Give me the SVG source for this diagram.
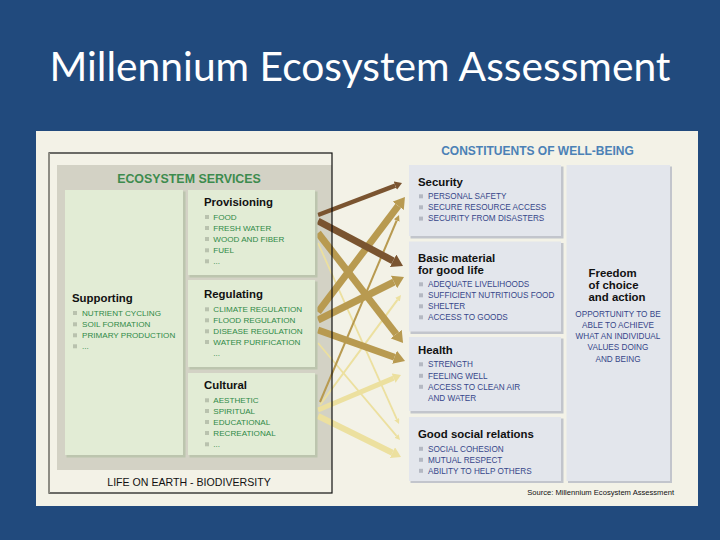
<svg xmlns="http://www.w3.org/2000/svg" width="720" height="540" viewBox="0 0 720 540">
<defs>
<style>
.title{font-family:Lato,"Open Sans","Liberation Sans",sans-serif;font-size:41px;fill:#ffffff}
.hd{font-family:"Liberation Sans",Arial,sans-serif;font-weight:bold;font-size:11.4px;fill:#111111}
.gi{font-family:"Liberation Sans",Arial,sans-serif;font-size:8.1px;fill:#2f8a47}
.bi{font-family:"Liberation Sans",Arial,sans-serif;font-size:8.2px;fill:#37478a}
.gb{fill:#b9c2ae}
.bb{fill:#b4b8c2}
.gbox{fill:#e2ecd5}
.gsh{fill:#bcc5ae}
.bbox{fill:#e3e6ec}
.bsh{fill:#c2c5cc}
.ln{fill:none;stroke-linecap:butt}
.dark{stroke:#7a5430}
.tan{stroke:#b89a50}
.lt{stroke:#ece09f}
</style>
<marker id="hDark" viewBox="0 0 1.6 2" refX="0" refY="1" markerWidth="1.6" markerHeight="2" markerUnits="strokeWidth" orient="auto"><path d="M0,0 L1.6,1 L0,2 z" fill="#7a5430"/></marker>
<marker id="hTan" viewBox="0 0 1.6 2" refX="0" refY="1" markerWidth="1.6" markerHeight="2" markerUnits="strokeWidth" orient="auto"><path d="M0,0 L1.6,1 L0,2 z" fill="#b89a50"/></marker>
<marker id="hLt" viewBox="0 0 1.6 2" refX="0" refY="1" markerWidth="1.6" markerHeight="2" markerUnits="strokeWidth" orient="auto"><path d="M0,0 L1.6,1 L0,2 z" fill="#ece09f"/></marker>
<marker id="tTan" viewBox="0 0 3 3" refX="0" refY="1.5" markerWidth="3" markerHeight="3" markerUnits="strokeWidth" orient="auto"><path d="M0,0 L3,1.5 L0,3 z" fill="#b89a50"/></marker>
<marker id="tLt" viewBox="0 0 3 3" refX="0" refY="1.5" markerWidth="3" markerHeight="3" markerUnits="strokeWidth" orient="auto"><path d="M0,0 L3,1.5 L0,3 z" fill="#ece09f"/></marker>
</defs>

<rect x="0" y="0" width="720" height="540" fill="#214a7d"/>
<text class="title" x="360" y="81" text-anchor="middle" textLength="621" lengthAdjust="spacingAndGlyphs">Millennium Ecosystem Assessment</text>

<rect x="36" y="131" width="662" height="375" fill="#f3f2e7"/>

<!-- gray services panel -->
<rect x="57" y="165" width="275" height="305" fill="#d3d2c5"/>
<text x="189" y="182.5" text-anchor="middle" font-family="Liberation Sans, Arial, sans-serif" font-weight="bold" font-size="12.4" fill="#3d8b4e">ECOSYSTEM SERVICES</text>

<g id="connectors">
<line class="ln lt" x1="318" y1="243" x2="396.8" y2="419.1" stroke-width="1.8" marker-end="url(#tLt)"/>
<line class="ln lt" x1="318" y1="343" x2="396.5" y2="435.9" stroke-width="1.8" marker-end="url(#tLt)"/>
<line class="ln lt" x1="320" y1="405" x2="397.4" y2="299.8" stroke-width="2" marker-end="url(#tLt)"/>
<line class="ln lt" x1="318" y1="410" x2="393.6" y2="378.1" stroke-width="5" marker-end="url(#hLt)"/>
<line class="ln lt" x1="318" y1="416" x2="392.4" y2="452.7" stroke-width="6" marker-end="url(#hLt)"/>
<line class="ln tan" x1="320" y1="402" x2="396.7" y2="220.5" stroke-width="2" marker-end="url(#tTan)"/>
<line class="ln tan" x1="318" y1="312" x2="398.2" y2="205.9" stroke-width="7" marker-end="url(#hTan)"/>
<line class="ln tan" x1="318" y1="320" x2="394.0" y2="282.0" stroke-width="7" marker-end="url(#hTan)"/>
<line class="ln tan" x1="318" y1="330" x2="394.5" y2="357.2" stroke-width="7" marker-end="url(#hTan)"/>
<line class="ln tan" x1="318" y1="233" x2="396.2" y2="334.1" stroke-width="7" marker-end="url(#hTan)"/>
<line class="ln dark" x1="318" y1="215" x2="395.3" y2="185.6" stroke-width="4.5" marker-end="url(#hDark)"/>
<line class="ln dark" x1="318" y1="221" x2="393.1" y2="260.8" stroke-width="7" marker-end="url(#hDark)"/>
</g>

<!-- frame -->
<rect x="49" y="153" width="283" height="340" fill="none" stroke="#111111" stroke-width="1.2"/>
<line x1="49" y1="153" x2="49" y2="493" stroke="#8e8d84" stroke-width="2"/>
<text x="189" y="486" text-anchor="middle" font-family="Liberation Sans, Arial, sans-serif" font-size="10.6" fill="#111111">LIFE ON EARTH - BIODIVERSITY</text>

<g id="supporting">
<rect class="gsh" x="66.5" y="191.5" width="119" height="266"/>
<rect class="gbox" x="65" y="190" width="118" height="265"/>
<text class="hd" x="72" y="301.5">Supporting</text>
<rect class="gb" x="73" y="311" width="4" height="4"/><text class="gi" x="82" y="315.7">NUTRIENT CYCLING</text>
<rect class="gb" x="73" y="322.3" width="4" height="4"/><text class="gi" x="82" y="327">SOIL FORMATION</text>
<rect class="gb" x="73" y="333.3" width="4" height="4"/><text class="gi" x="82" y="338">PRIMARY PRODUCTION</text>
<rect class="gb" x="73" y="344.3" width="4" height="4"/><text class="gi" x="82" y="349">...</text>
</g>

<g id="provisioning">
<rect class="gsh" x="189.5" y="191.5" width="128" height="86"/>
<rect class="gbox" x="188" y="190" width="127" height="85"/>
<text class="hd" x="204" y="206">Provisioning</text>
<rect class="gb" x="205" y="215" width="4" height="4"/><text class="gi" x="213.3" y="219.7">FOOD</text>
<rect class="gb" x="205" y="226" width="4" height="4"/><text class="gi" x="213.3" y="230.7">FRESH WATER</text>
<rect class="gb" x="205" y="237" width="4" height="4"/><text class="gi" x="213.3" y="241.7">WOOD AND FIBER</text>
<rect class="gb" x="205" y="248.3" width="4" height="4"/><text class="gi" x="213.3" y="253">FUEL</text>
<rect class="gb" x="205" y="259.3" width="4" height="4"/><text class="gi" x="213.3" y="264">...</text>
</g>

<g id="regulating">
<rect class="gsh" x="189.5" y="281.5" width="128" height="88"/>
<rect class="gbox" x="188" y="280" width="127" height="87"/>
<text class="hd" x="204" y="298">Regulating</text>
<rect class="gb" x="205" y="307.3" width="4" height="4"/><text class="gi" x="213.3" y="312">CLIMATE REGULATION</text>
<rect class="gb" x="205" y="318.3" width="4" height="4"/><text class="gi" x="213.3" y="323">FLOOD REGULATION</text>
<rect class="gb" x="205" y="329.3" width="4" height="4"/><text class="gi" x="213.3" y="334">DISEASE REGULATION</text>
<rect class="gb" x="205" y="340" width="4" height="4"/><text class="gi" x="213.3" y="344.7">WATER PURIFICATION</text>
<text class="gi" x="213.3" y="356">...</text>
</g>

<g id="cultural">
<rect class="gsh" x="189.5" y="374.5" width="128" height="83"/>
<rect class="gbox" x="188" y="373" width="127" height="82"/>
<text class="hd" x="204" y="388.5">Cultural</text>
<rect class="gb" x="205" y="398.3" width="4" height="4"/><text class="gi" x="213.3" y="403">AESTHETIC</text>
<rect class="gb" x="205" y="409" width="4" height="4"/><text class="gi" x="213.3" y="413.7">SPIRITUAL</text>
<rect class="gb" x="205" y="420" width="4" height="4"/><text class="gi" x="213.3" y="424.7">EDUCATIONAL</text>
<rect class="gb" x="205" y="431" width="4" height="4"/><text class="gi" x="213.3" y="435.7">RECREATIONAL</text>
<rect class="gb" x="205" y="442.3" width="4" height="4"/><text class="gi" x="213.3" y="447">...</text>
</g>

<text x="537.5" y="154.5" text-anchor="middle" font-family="Liberation Sans, Arial, sans-serif" font-weight="bold" font-size="12" fill="#4b81b6">CONSTITUENTS OF WELL-BEING</text>

<g id="security">
<rect class="bsh" x="410.5" y="166.5" width="153" height="72"/>
<rect class="bbox" x="409" y="165" width="152" height="71"/>
<text class="hd" x="418" y="186">Security</text>
<rect class="bb" x="419" y="194.3" width="4" height="4"/><text class="bi" x="428" y="199">PERSONAL SAFETY</text>
<rect class="bb" x="419" y="205.3" width="4" height="4"/><text class="bi" x="428" y="210">SECURE RESOURCE ACCESS</text>
<rect class="bb" x="419" y="216.6" width="4" height="4"/><text class="bi" x="428" y="221.3">SECURITY FROM DISASTERS</text>
</g>

<g id="basic-material">
<rect class="bsh" x="410.5" y="243" width="153" height="91"/>
<rect class="bbox" x="409" y="241.5" width="152" height="90"/>
<text class="hd" x="418" y="262">Basic material</text>
<text class="hd" x="418" y="274">for good life</text>
<rect class="bb" x="419" y="282.3" width="4" height="4"/><text class="bi" x="428" y="287">ADEQUATE LIVELIHOODS</text>
<rect class="bb" x="419" y="293.3" width="4" height="4"/><text class="bi" x="428" y="298">SUFFICIENT NUTRITIOUS FOOD</text>
<rect class="bb" x="419" y="304.3" width="4" height="4"/><text class="bi" x="428" y="309">SHELTER</text>
<rect class="bb" x="419" y="315.3" width="4" height="4"/><text class="bi" x="428" y="320">ACCESS TO GOODS</text>
</g>

<g id="health">
<rect class="bsh" x="410.5" y="338.5" width="153" height="75"/>
<rect class="bbox" x="409" y="337" width="152" height="74"/>
<text class="hd" x="418" y="354">Health</text>
<rect class="bb" x="419" y="362.3" width="4" height="4"/><text class="bi" x="428" y="367">STRENGTH</text>
<rect class="bb" x="419" y="373.8" width="4" height="4"/><text class="bi" x="428" y="378.5">FEELING WELL</text>
<rect class="bb" x="419" y="384.8" width="4" height="4"/><text class="bi" x="428" y="389.5">ACCESS TO CLEAN AIR</text>
<text class="bi" x="428" y="400.5">AND WATER</text>
</g>

<g id="social-relations">
<rect class="bsh" x="410.5" y="418.5" width="153" height="64.5"/>
<rect class="bbox" x="409" y="417" width="152" height="64"/>
<text class="hd" x="418" y="438">Good social relations</text>
<rect class="bb" x="419" y="446.8" width="4" height="4"/><text class="bi" x="428" y="451.5">SOCIAL COHESION</text>
<rect class="bb" x="419" y="457.8" width="4" height="4"/><text class="bi" x="428" y="462.5">MUTUAL RESPECT</text>
<rect class="bb" x="419" y="468.8" width="4" height="4"/><text class="bi" x="428" y="473.5">ABILITY TO HELP OTHERS</text>
</g>

<g id="freedom">
<rect class="bsh" x="568" y="166.5" width="104" height="316.5"/>
<rect class="bbox" x="566.5" y="165" width="103.5" height="316"/>
<text class="hd" x="588.5" y="277">Freedom</text>
<text class="hd" x="588.5" y="288.5">of choice</text>
<text class="hd" x="588.5" y="300.5">and action</text>
<text class="bi" x="618" y="317" text-anchor="middle">OPPORTUNITY TO BE</text>
<text class="bi" x="618" y="328" text-anchor="middle">ABLE TO ACHIEVE</text>
<text class="bi" x="618" y="339" text-anchor="middle">WHAT AN INDIVIDUAL</text>
<text class="bi" x="618" y="350.3" text-anchor="middle">VALUES DOING</text>
<text class="bi" x="618" y="361.7" text-anchor="middle">AND BEING</text>
</g>

<text x="674" y="495" text-anchor="end" font-family="Liberation Sans, Arial, sans-serif" font-size="7.6" fill="#111111">Source: Millennium Ecosystem Assessment</text>
</svg>
